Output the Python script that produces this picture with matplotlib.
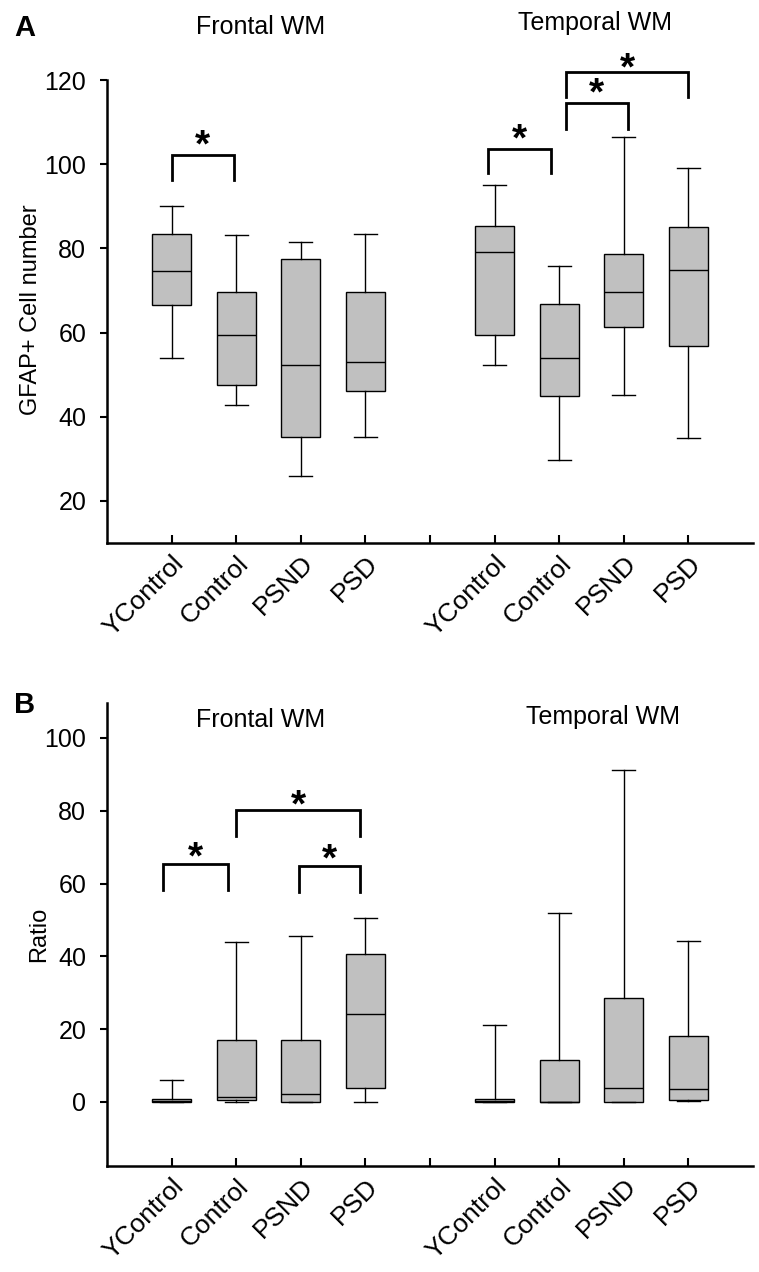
import matplotlib
matplotlib.use("Agg")
import matplotlib.pyplot as plt
import matplotlib.transforms as mtransforms

plt.rcParams["font.family"] = ["Liberation Sans", "DejaVu Sans"]

groups = ["YControl", "Control", "PSND", "PSD"]

# box stats per group: (whisker low, q1, median, q3, whisker high)
gfap_frontal = [
    (53.9, 66.5, 74.6, 83.4, 90.0),
    (42.8, 47.5, 59.4, 69.6, 83.1),
    (25.9, 35.3, 52.2, 77.5, 81.6),
    (35.3, 46.0, 53.0, 69.6, 83.3),
]
gfap_temporal = [
    (52.2, 59.4, 79.1, 85.4, 95.0),
    (29.7, 44.9, 53.9, 66.8, 75.8),
    (45.1, 61.3, 69.6, 78.6, 106.4),
    (34.9, 56.9, 74.9, 85.1, 99.2),
]
ratio_frontal = [
    (0.0, 0.0, 0.4, 0.9, 6.0),
    (0.0, 0.5, 1.5, 17.0, 44.0),
    (0.0, 0.0, 2.1, 17.0, 45.5),
    (0.0, 3.8, 24.2, 40.7, 50.5),
]
ratio_temporal = [
    (0.0, 0.0, 0.4, 0.9, 21.2),
    (0.0, 0.0, 0.0, 11.6, 52.0),
    (0.0, 0.0, 3.9, 28.7, 91.3),
    (0.2, 0.5, 3.5, 18.2, 44.2),
]

# significance brackets: (left x, right x, bar height, leg bottom, star height)
gfap_sig = [
    (1.0, 1.97, 102.3, 96.3, 106.0),
    (5.9, 6.88, 103.6, 98.0, 107.5),
    (7.1, 8.06, 114.5, 108.4, 118.4),
    (7.1, 9.0, 122.0, 116.0, 124.4),
]
ratio_sig = [
    (0.86, 1.88, 65.5, 58.1, 68.9),
    (2.0, 3.92, 80.3, 73.0, 83.2),
    (2.97, 3.92, 64.7, 57.7, 68.5),
]

frontal_pos = [1, 2, 3, 4]
temporal_pos = [6, 7, 8, 9]

STAR_SIZE = 28


def to_stats(rows):
    return [dict(whislo=r[0], q1=r[1], med=r[2], q3=r[3], whishi=r[4]) for r in rows]


def draw_panel(ax, frontal, temporal, sig, ylim, yticks, ylabel):
    style = dict(
        widths=0.6, capwidths=0.36, patch_artist=True, showfliers=False,
        boxprops=dict(facecolor="#c0c0c0", edgecolor="black", linewidth=1.0),
        medianprops=dict(color="black", linewidth=1.0),
        whiskerprops=dict(color="black", linewidth=1.0),
        capprops=dict(color="black", linewidth=1.0),
    )
    ax.bxp(to_stats(frontal), positions=frontal_pos, **style)
    ax.bxp(to_stats(temporal), positions=temporal_pos, **style)

    for x1, x2, yt, yl, ys in sig:
        ax.plot([x1, x1, x2, x2], [yl, yt, yt, yl], color="black", lw=2.0,
                clip_on=False, solid_joinstyle="miter")
        # asterisk glyph sits high in the em box, so pull the baseline down
        ax.annotate("*", (0.5 * (x1 + x2), ys), xytext=(0, -0.45 * STAR_SIZE),
                    textcoords="offset points", ha="center", va="baseline",
                    fontsize=STAR_SIZE, fontweight="bold", annotation_clip=False)

    ax.set_xlim(0, 10)
    ax.set_ylim(*ylim)
    ax.set_yticks(yticks)
    ax.set_xticks(frontal_pos + [5] + temporal_pos)
    ax.set_xticklabels(groups + [""] + groups, rotation=45, ha="right",
                       rotation_mode="anchor", va="top")
    shift = mtransforms.ScaledTranslation(6 / 72, 0, ax.figure.dpi_scale_trans)
    for lab in ax.get_xticklabels():
        lab.set_transform(lab.get_transform() + shift)

    ax.spines["top"].set_visible(False)
    ax.spines["right"].set_visible(False)
    for s in ("left", "bottom"):
        ax.spines[s].set_linewidth(1.8)
    ax.tick_params(axis="y", direction="out", length=5, width=1.5, labelsize=18, pad=10)
    ax.tick_params(axis="x", direction="in", length=6, width=1.5, labelsize=19, pad=6)
    ax.set_ylabel(ylabel, fontsize=17)


fig = plt.figure(figsize=(7.59, 12.72), dpi=100)
ax_a = fig.add_axes([0.141, 0.5731, 0.851, 0.364])
ax_b = fig.add_axes([0.141, 0.0833, 0.851, 0.364])

draw_panel(ax_a, gfap_frontal, gfap_temporal, gfap_sig, (10, 120),
           [20, 40, 60, 80, 100, 120], "GFAP+ Cell number")
draw_panel(ax_b, ratio_frontal, ratio_temporal, ratio_sig, (-17.6, 109.6),
           [0, 20, 40, 60, 80, 100], "Ratio")

ax_a.yaxis.set_label_coords(-0.1, 0.505)
ax_b.yaxis.set_label_coords(-0.088, 0.5)

ax_a.text(0.238, 1.114, "Frontal WM", transform=ax_a.transAxes, ha="center",
          va="center", fontsize=18)
ax_a.text(0.755, 1.123, "Temporal WM", transform=ax_a.transAxes, ha="center",
          va="center", fontsize=18)
ax_b.text(0.238, 0.963, "Frontal WM", transform=ax_b.transAxes, ha="center",
          va="center", fontsize=18)
ax_b.text(0.768, 0.970, "Temporal WM", transform=ax_b.transAxes, ha="center",
          va="center", fontsize=18)

fig.text(0.032, 0.978, "A", fontsize=21, fontweight="bold", ha="center", va="center")
fig.text(0.033, 0.446, "B", fontsize=21, fontweight="bold", ha="center", va="center")

fig.savefig("out.png", dpi=100)
